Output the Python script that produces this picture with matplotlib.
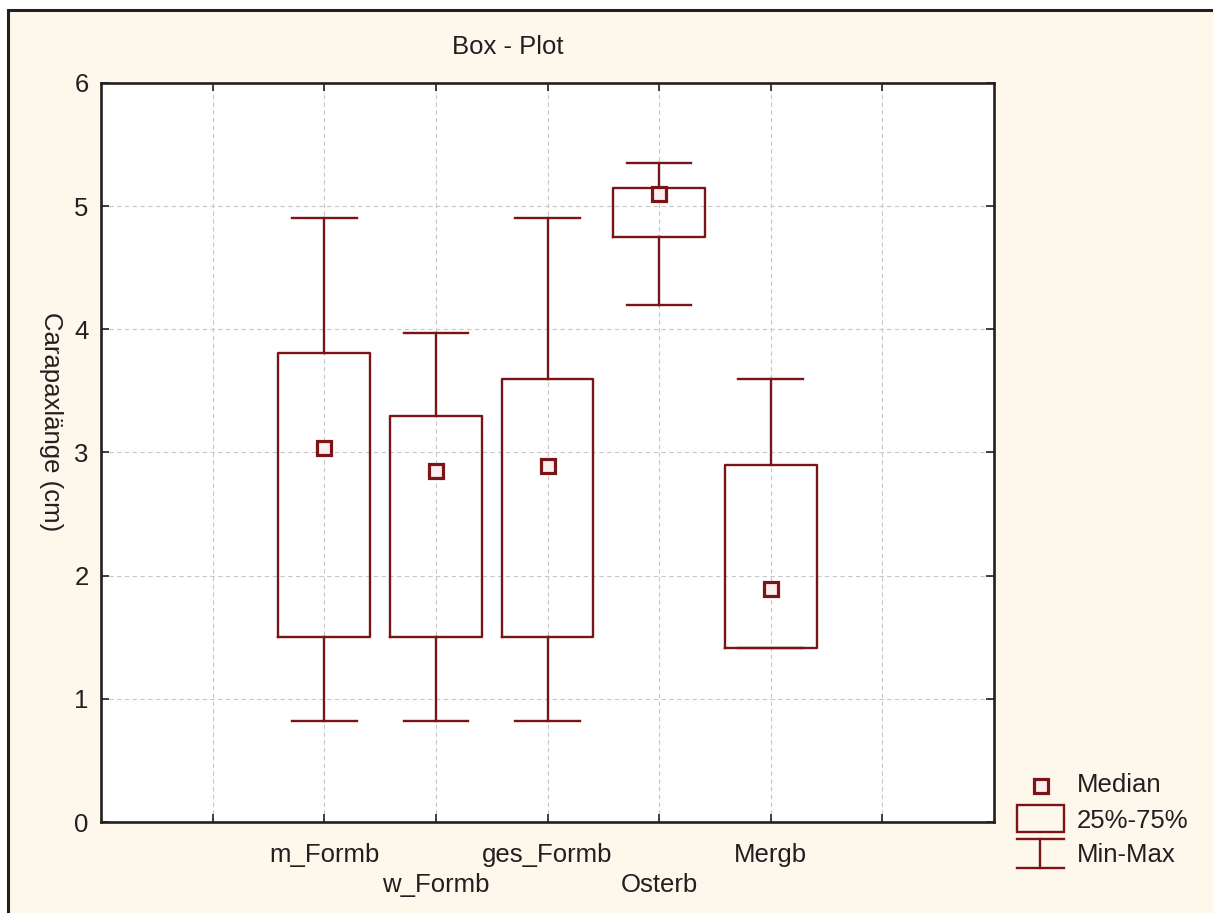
import matplotlib
matplotlib.use("Agg")
import matplotlib.pyplot as plt
from matplotlib.patches import Rectangle
from matplotlib.lines import Line2D

plt.rcParams['font.family'] = ['Liberation Sans', 'DejaVu Sans']

# --- data ---
groups = ['m_Formb', 'w_Formb', 'ges_Formb', 'Osterb', 'Mergb']
medians = [3.04, 2.85, 2.89, 5.10, 1.89]
q1 = [1.50, 1.50, 1.50, 4.75, 1.41]
q3 = [3.81, 3.30, 3.60, 5.15, 2.90]
mins = [0.82, 0.82, 0.82, 4.20, 1.41]
maxs = [4.90, 3.97, 4.90, 5.35, 3.60]
positions = [2, 3, 4, 5, 6]

dark_red = '#7a1416'
cream = '#fef7ec'
ink = '#231f20'
fs = 18.5
W, H = 1213, 913

fig = plt.figure(figsize=(W / 100, H / 100), dpi=100, facecolor='white')
fig.patches.append(Rectangle((8 / W, -0.02), 1.05, 1 - 10 / H + 0.02,
                             transform=fig.transFigure, facecolor=cream,
                             edgecolor=ink, lw=2.2, zorder=-10))

ax = fig.add_axes([101 / W, 1 - 822 / H, (994 - 101) / W, (822 - 83) / H])
ax.set_facecolor('white')

stats = []
for g, lo, a, m, b, hi in zip(groups, mins, q1, medians, q3, maxs):
    stats.append(dict(label=g, whislo=lo, q1=a, med=m, q3=b, whishi=hi, fliers=[]))

ax.bxp(stats, positions=positions, widths=0.82, capwidths=0.58,
       showfliers=False,
       boxprops=dict(color=dark_red, lw=1.7),
       whiskerprops=dict(color=dark_red, lw=1.7),
       capprops=dict(color=dark_red, lw=1.7),
       medianprops=dict(lw=0))
ax.plot(positions, medians, 's', ms=9.5, mfc='#fbeeee', mec=dark_red, mew=2.3, zorder=5)

ax.set_xlim(0, 8)
ax.set_ylim(0, 6)
ax.set_xticks(range(1, 8))
xlabels = [''] + [g if i % 2 == 0 else '\n' + g for i, g in enumerate(groups)] + ['']
ax.set_xticklabels(xlabels, fontsize=fs, color=ink, linespacing=1.3)
ax.set_yticks(range(0, 7))
ax.set_yticklabels([str(v) for v in range(0, 7)], fontsize=fs, color=ink)
ax.tick_params(direction='in', length=6, width=1.2, color=ink,
               top=True, right=True, pad=9)
ax.tick_params(axis='x', pad=15)
ax.grid(True, color='#c8c8c8', ls=(0, (4, 3)), lw=0.8)
for s in ax.spines.values():
    s.set_color(ink)
    s.set_linewidth(1.9)

fig.text(508 / W, 1 - 47 / H, 'Box - Plot', fontsize=fs, ha='center', va='center',
         color=ink)
fig.text(51 / W, 1 - 422 / H, 'Carapaxlänge (cm)', fontsize=fs, rotation=270,
         ha='center', va='center', color=ink)

# --- legend drawn in pixel space ---
lg = fig.add_axes([0, 0, 1, 1], facecolor='none')
lg.set_xlim(0, W)
lg.set_ylim(H, 0)
lg.axis('off')
lg.plot([1041], [786], 's', ms=9.5, mfc='#fbeeee', mec=dark_red, mew=2.3)
lg.add_patch(Rectangle((1017, 805), 47, 27, fill=False, edgecolor=dark_red, lw=1.7))
lg.add_line(Line2D([1017, 1064], [839, 839], color=dark_red, lw=1.7))
lg.add_line(Line2D([1017, 1064], [868, 868], color=dark_red, lw=1.7))
lg.add_line(Line2D([1040, 1040], [839, 868], color=dark_red, lw=1.7))
for y, t in zip([785, 821, 855], ['Median', '25%-75%', 'Min-Max']):
    lg.text(1077, y, t, fontsize=fs, va='center', ha='left', color=ink)

fig.savefig('out.png', dpi=100, facecolor=fig.get_facecolor())
